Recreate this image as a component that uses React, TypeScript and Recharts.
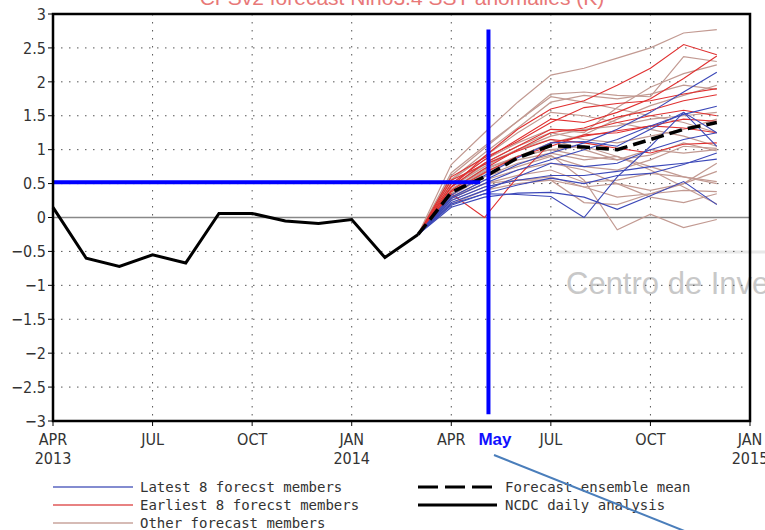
import React from "react";
import { LineChart, Line, XAxis, YAxis, CartesianGrid, ReferenceLine } from "recharts";

// month index: 0 = APR 2013 ... 21 = JAN 2015
const xTicks = [0, 3, 6, 9, 12, 15, 18, 21];
const xTickMonths = ["APR", "JUL", "OCT", "JAN", "APR", "JUL", "OCT", "JAN"];
const xTickYears = ["2013", "", "", "2014", "", "", "", "2015"];
const yTicks = [-3, -2.5, -2, -1.5, -1, -0.5, 0, 0.5, 1, 1.5, 2, 2.5, 3];

// NCDC daily analysis, APR 2013 .. MAR 2014
const observed = [0.15, -0.6, -0.72, -0.55, -0.67, 0.06, 0.06, -0.05, -0.09, -0.03, -0.59, -0.25];

// forecasts: MAR 2014 .. DEC 2014
const forecastStart = 11;
const ensembleMean = [-0.25, 0.37, 0.6, 0.88, 1.06, 1.04, 1.0, 1.15, 1.3, 1.4];

const latestMembers = [
  [-0.25, 0.15, 0.3, 0.36, 0.37, 0.3, 0.12, 0.32, 0.53, 0.19],
  [-0.25, 0.2, 0.35, 0.34, 0.31, 0.0, 0.6, 1.05, 1.55, 1.25],
  [-0.25, 0.25, 0.45, 0.55, 0.62, 0.62, 0.68, 0.75, 0.8, 0.86],
  [-0.25, 0.3, 0.55, 0.78, 0.95, 1.1, 1.3, 1.55, 1.85, 2.14],
  [-0.25, 0.28, 0.5, 0.7, 0.85, 1.0, 1.15, 1.35, 1.52, 1.64],
  [-0.25, 0.22, 0.4, 0.6, 0.8, 0.75, 0.8, 1.0, 1.15, 1.25],
  [-0.25, 0.33, 0.62, 0.88, 1.1, 1.12, 1.05, 1.3, 1.55, 1.05],
  [-0.25, 0.18, 0.35, 0.48, 0.58, 0.5, 0.62, 0.65, 0.78, 0.95],
];

const earliestMembers = [
  [-0.25, 0.45, 0.9, 1.3, 1.6, 1.72, 1.95, 2.2, 2.55, 2.4],
  [-0.25, 0.5, 0.85, 1.15, 1.45, 1.4, 1.55, 1.75, 2.05, 2.38],
  [-0.25, 0.4, 0.72, 1.0, 1.25, 1.32, 1.48, 1.58, 1.72, 1.81],
  [-0.25, 0.35, 0.0, 0.6, 1.1, 1.2, 1.28, 1.35, 1.45, 1.42],
  [-0.25, 0.55, 0.78, 0.98, 1.15, 1.1, 1.02, 0.95, 1.08, 1.1],
  [-0.25, 0.45, 0.8, 1.05, 1.3, 1.28, 1.4, 1.5, 1.58, 1.5],
  [-0.25, 0.6, 0.88, 1.12, 1.4, 1.62, 1.68, 1.72, 1.82, 1.9],
  [-0.25, 0.38, 0.66, 0.9, 1.05, 1.22, 1.25, 1.35, 1.32, 1.25],
];

const otherMembers = [
  [-0.25, 0.78, 1.25, 1.7, 2.1, 2.2, 2.35, 2.5, 2.72, 2.77],
  [-0.25, 0.62, 1.02, 1.42, 1.82, 1.85, 1.8, 1.78, 2.37, 2.3],
  [-0.25, 0.56, 0.95, 1.32, 1.7, 1.8, 1.75, 1.82, 1.95, 1.89],
  [-0.25, 0.5, 0.85, 1.1, 1.3, 1.25, 1.62, 1.92, 2.12, 2.25],
  [-0.25, 0.45, 0.75, 1.0, 1.2, 1.3, 1.35, 1.45, 1.5, 1.55],
  [-0.25, 0.4, 0.7, 0.9, 1.0, 0.9, 0.85, 1.0, 0.95, 1.0],
  [-0.25, 0.35, 0.6, 0.75, 0.9, 0.75, 0.7, 0.85, 1.05, 1.02],
  [-0.25, 0.3, 0.55, 0.7, 0.8, 0.7, 0.5, 0.4, 0.5, 0.68],
  [-0.25, 0.28, 0.5, 0.62, 0.7, 0.52, 0.55, 0.65, 0.6, 0.53],
  [-0.25, 0.25, 0.45, 0.55, 0.6, 0.45, 0.3, 0.35, 0.4, 0.38],
  [-0.25, 0.32, 0.6, 0.8, 0.92, 0.55, -0.18, 0.05, -0.15, -0.03],
  [-0.25, 0.42, 0.72, 0.9, 1.0, 1.05, 0.9, 0.75, 0.6, 0.5],
  [-0.25, 0.5, 0.8, 1.05, 1.25, 1.15, 1.1, 1.2, 1.3, 1.45],
  [-0.25, 0.38, 0.68, 0.85, 0.95, 0.85, 0.9, 0.7, 0.45, 0.2],
  [-0.25, 0.3, 0.5, 0.55, 0.55, 0.22, 0.19, 0.35, 0.5, 0.8],
  [-0.25, 0.55, 0.9, 1.25, 1.55, 1.5, 1.4, 1.3, 1.2, 1.05],
  [-0.25, 0.66, 1.05, 1.42, 1.78, 1.7, 1.6, 1.5, 1.4, 1.25],
  [-0.25, 0.35, 0.65, 0.9, 1.1, 1.22, 1.45, 1.65, 1.8, 1.95],
  [-0.25, 0.2, 0.4, 0.5, 0.55, 0.45, 0.5, 0.3, 0.22, 0.35],
  [-0.25, 0.45, 0.78, 1.0, 1.15, 1.0, 0.85, 0.92, 1.1, 0.98],
];

const thresholdValue = 0.52;
const thresholdEnd = 12.87;
const mayLine = 13.12;

const legendLeft = ["Latest 8 forecst members", "Earliest 8 forecst members", "Other forecast members"];
const legendRight = ["Forecast ensemble mean", "NCDC daily analysis"];

const BLUE = "#3c48b8";
const RED = "#e03030";
const BROWN = "#c29a92";

// build table
const data: any[] = [];
for (let i = 0; i <= 20; i++) {
  const row: any = { m: i };
  if (i < observed.length) row.obs = observed[i];
  const fi = i - forecastStart;
  if (fi >= 0 && fi < ensembleMean.length) {
    row.mean = ensembleMean[fi];
    latestMembers.forEach((s, k) => (row["b" + k] = s[fi]));
    earliestMembers.forEach((s, k) => (row["r" + k] = s[fi]));
    otherMembers.forEach((s, k) => (row["o" + k] = s[fi]));
  }
  data.push(row);
}

const AXIS_FONT = "'DejaVu Sans Condensed', 'DejaVu Sans', sans-serif";

const XTick = (props: any) => {
  const { x, y, payload } = props;
  const idx = xTicks.indexOf(payload.value);
  if (idx < 0) return null;
  return (
    <g>
      <text x={x} y={y} dy={19} textAnchor="middle" fontFamily={AXIS_FONT} fontSize={16} fill="#333">
        {xTickMonths[idx]}
      </text>
      {xTickYears[idx] && (
        <text x={x} y={y} dy={38} textAnchor="middle" fontFamily={AXIS_FONT} fontSize={16} fill="#333">
          {xTickYears[idx]}
        </text>
      )}
    </g>
  );
};

const fmtY = (v: number) => (v < 0 ? "\u2212" + Math.abs(v) : String(v));

export default function App() {
  return (
    <div style={{ position: "relative", width: 765, height: 530, overflow: "hidden" }}>
      <style>{"html,body{margin:0;padding:0;overflow:hidden}"}</style>
      <svg width={765} height={530} style={{ position: "absolute", left: 0, top: 0, pointerEvents: "none" }}>
        <line x1={556} y1={252} x2={765} y2={252} stroke="#e8e8e8" strokeWidth={3} />
        <text x={566} y={294} fontFamily="'Liberation Sans', Arial, sans-serif" fontSize={31} fill="#c8c8c8">
          Centro de Inve
        </text>
      </svg>
      <LineChart
        width={765}
        height={530}
        data={data}
        margin={{ top: 14, right: 15, bottom: 64, left: 0 }}
        style={{ position: "absolute", left: 0, top: 0 }}
      >
        <CartesianGrid stroke="#555" strokeDasharray="1.5 6.5" />
        <XAxis
          type="number"
          dataKey="m"
          domain={[0, 21]}
          ticks={xTicks}
          interval={0}
          height={45}
          tick={<XTick />}
          tickSize={5}
          tickMargin={0}
          tickLine={{ stroke: "#000" }}
          axisLine={false}
        />
        <YAxis
          type="number"
          domain={[-3, 3]}
          ticks={yTicks}
          interval={0}
          width={53}
          tickFormatter={fmtY}
          tick={{ fontFamily: AXIS_FONT, fontSize: 16, fill: "#333" }}
          tickSize={5}
          tickMargin={2}
          tickLine={{ stroke: "#000" }}
          axisLine={false}
        />
        <ReferenceLine y={0} stroke="#888" strokeWidth={1.5} />
        {otherMembers.map((_, k) => (
          <Line key={"o" + k} dataKey={"o" + k} type="linear" stroke={BROWN} strokeWidth={1.2} dot={false} isAnimationActive={false} />
        ))}
        {earliestMembers.map((_, k) => (
          <Line key={"r" + k} dataKey={"r" + k} type="linear" stroke={RED} strokeWidth={1.1} dot={false} isAnimationActive={false} />
        ))}
        {latestMembers.map((_, k) => (
          <Line key={"b" + k} dataKey={"b" + k} type="linear" stroke={BLUE} strokeWidth={1.1} dot={false} isAnimationActive={false} />
        ))}
        <Line dataKey="mean" type="linear" stroke="#000" strokeWidth={3.5} strokeDasharray="13 6" dot={false} isAnimationActive={false} />
        <Line dataKey="obs" type="linear" stroke="#000" strokeWidth={3} dot={false} isAnimationActive={false} />
        <ReferenceLine
          segment={[{ x: 0, y: thresholdValue }, { x: thresholdEnd, y: thresholdValue }]}
          stroke="#0000ff"
          strokeWidth={4}
          ifOverflow="visible"
        />
        <ReferenceLine
          segment={[{ x: mayLine, y: -2.9 }, { x: mayLine, y: 2.77 }]}
          stroke="#0000ff"
          strokeWidth={4}
          ifOverflow="visible"
        />
      </LineChart>
      <svg width={765} height={530} style={{ position: "absolute", left: 0, top: 0, pointerEvents: "none" }}>
        <text x={402} y={4.5} textAnchor="middle" fontFamily="'Liberation Sans', Arial, sans-serif" fontSize={21} fill="#e87878">
          CFSv2 forecast Nino3.4 SST anomalies (K)
        </text>
        <rect x={53} y={14} width={697} height={407} fill="none" stroke="#000" strokeWidth={2.5} />
        <text x={495} y={445} textAnchor="middle" fontFamily="'Liberation Sans', Arial, sans-serif" fontWeight="bold" fontSize={17} fill="#1010ff">
          May
        </text>
        <line x1={53} y1={487} x2={133} y2={487} stroke="#5a66c0" strokeWidth={1.5} />
        <line x1={53} y1={505} x2={133} y2={505} stroke="#e05858" strokeWidth={1.5} />
        <line x1={53} y1={523} x2={133} y2={523} stroke="#c8a49c" strokeWidth={1.5} />
        {legendLeft.map((t, i) => (
          <text key={t} x={140} y={492 + i * 18} fontFamily="'DejaVu Sans Mono', monospace" fontSize={14} fill="#333">
            {t}
          </text>
        ))}
        <line x1={418} y1={487} x2={497} y2={487} stroke="#000" strokeWidth={3} strokeDasharray="20 7" />
        <line x1={418} y1={505} x2={497} y2={505} stroke="#000" strokeWidth={3} />
        {legendRight.map((t, i) => (
          <text key={t} x={505} y={492 + i * 18} fontFamily="'DejaVu Sans Mono', monospace" fontSize={14} fill="#333">
            {t}
          </text>
        ))}
        <line x1={494} y1={455} x2={692} y2={534} stroke="#4a7ebb" strokeWidth={2} />
      </svg>
    </div>
  );
}
